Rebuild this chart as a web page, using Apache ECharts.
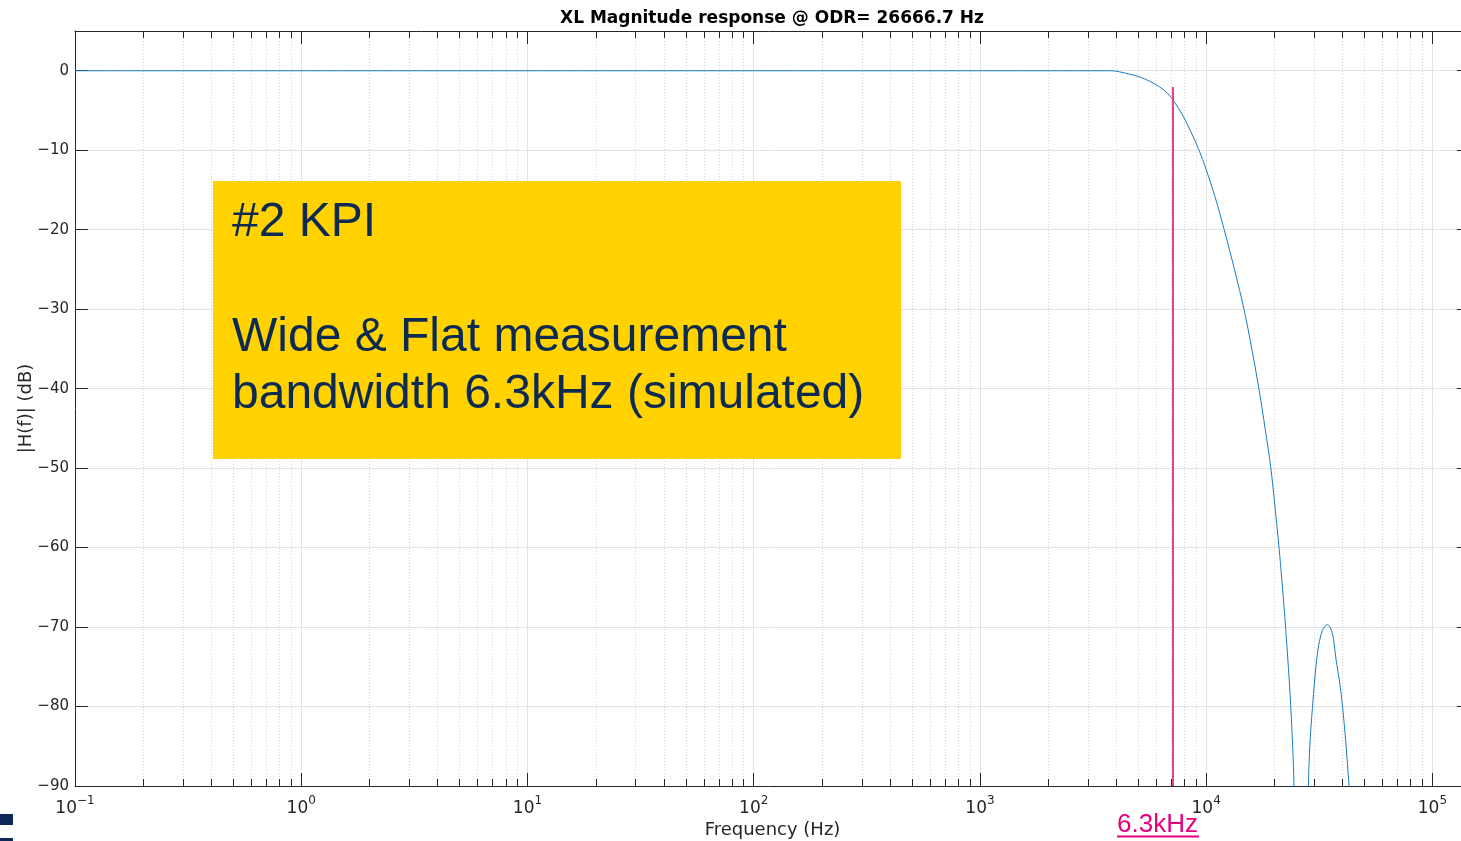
<!DOCTYPE html>
<html><head><meta charset="utf-8">
<script src="https://cdn.jsdelivr.net/npm/echarts@6/dist/echarts.min.js"></script>
<style>html,body{margin:0;padding:0;background:#fff}#c{width:1461px;height:841px}</style>
</head><body><div id="c"></div>
<script>
// ---- data ----
const freqHz = [0.1, 3816, 4128, 4570, 5059, 5601, 6200, 6747, 7223, 7859, 8557, 9286, 10010, 10925, 12012, 13335, 14717, 15931, 17145, 18260, 19310, 20216, 21010, 21600, 22490, 23660, 24470, 26667, 28300, 28710, 29500, 31040, 32650, 34350, 36130, 37380, 39340, 41100, 42820, 53333];
const magDb = [0, 0, -0.13, -0.42, -0.76, -1.3, -2.0, -2.84, -3.9, -5.57, -7.68, -9.95, -12.47, -15.8, -20.0, -25.0, -30.1, -35.1, -40.2, -45.2, -50.0, -55.3, -60.1, -64.1, -70.4, -80.1, -90.1, -130, -90.1, -85.1, -80.1, -73.3, -70.4, -69.7, -70.8, -73.8, -78.0, -83.4, -90.1, -130];
const decadeTicks = [0.1, 1, 10, 100, 1000, 10000, 100000];
const minorMultipliers = [2, 3, 4, 5, 6, 7, 8, 9];
const markerFreq = 7150;      // pink vertical marker
const markerTopDb = -2.05;
const titleText = 'XL Magnitude response @ ODR= 26666.7 Hz';
const xName = 'Frequency (Hz)';
const yName = '|H(f)| (dB)';
const kpiLines = ['#2 KPI', 'Wide & Flat measurement', 'bandwidth 6.3kHz (simulated)'];
const markerLabel = '6.3kHz';

const xMin = 0.1, xMax = 146600, yMin = -90, yMax = 5;
const minorTickValues = [];
decadeTicks.forEach(d => minorMultipliers.forEach(m => { if (d * m < xMax) minorTickValues.push(d * m); }));

const axisColor = '#262626';
const gridColor = '#e3e3e3';
const font = 'DejaVu Sans';

function xLabel(v) {
  const e = Math.log10(v);
  const r = Math.round(e);
  if (Math.abs(e - r) > 1e-6) return '';
  return '{b|10}{s|' + (r < 0 ? '−' : '') + Math.abs(r) + '}';
}
function yLabel(v) {
  if (v > 0) return '';
  return String(v).replace('-', '−');
}

const chart = echarts.init(document.getElementById('c'), null, {renderer: 'canvas'});
chart.setOption({
  animation: false,
  backgroundColor: '#fff',
  title: {
    text: titleText, left: 772, top: 10, textAlign: 'center', padding: 0,
    textStyle: {fontFamily: font, fontWeight: 'bold', fontSize: 17, color: '#000'}
  },
  grid: {left: 75, right: -9, top: 31, bottom: 55, containLabel: false, outerBoundsMode: 'none'},
  xAxis: [{
    type: 'log', logBase: 10, min: xMin, max: xMax, splitNumber: 6,
    position: 'bottom',
    name: xName, nameLocation: 'middle', nameGap: 35, nameMoveOverlap: false,
    nameTextStyle: {fontFamily: font, fontSize: 18, color: axisColor},
    axisLine: {show: true, onZero: false, lineStyle: {color: axisColor, width: 1}},
    axisTick: {show: true, inside: true, length: 13, lineStyle: {color: axisColor}},
    axisLabel: {
      formatter: xLabel, margin: 9, color: axisColor,
      rich: {
        b: {fontFamily: font, fontSize: 17, color: axisColor, verticalAlign: 'bottom', lineHeight: 22},
        s: {fontFamily: font, fontSize: 12, color: axisColor, verticalAlign: 'top', lineHeight: 12}
      }
    },
    splitLine: {show: true, lineStyle: {color: gridColor, width: 1}}
  }, {
    type: 'log', logBase: 10, min: xMin, max: xMax, splitNumber: 6,
    position: 'top',
    axisLine: {show: true, onZero: false, lineStyle: {color: axisColor, width: 1}},
    axisTick: {show: true, inside: true, length: 13, lineStyle: {color: axisColor}},
    axisLabel: {show: false},
    splitLine: {show: false}
  }],
  yAxis: [{
    type: 'value', min: yMin, max: yMax, interval: 10, position: 'left',
    name: yName, nameLocation: 'middle', nameGap: 40, nameRotate: 90, nameMoveOverlap: false,
    nameTextStyle: {fontFamily: font, fontSize: 18, color: axisColor},
    axisLine: {show: true, onZero: false, lineStyle: {color: axisColor, width: 1}},
    axisTick: {show: true, inside: true, length: 13, lineStyle: {color: axisColor}},
    axisLabel: {formatter: yLabel, fontFamily: font, fontSize: 15, color: axisColor, margin: 6},
    splitLine: {show: true, lineStyle: {color: gridColor, width: 1}}
  }, {
    type: 'value', min: yMin, max: yMax, interval: 10, position: 'right',
    axisLine: {show: true, onZero: false, lineStyle: {color: axisColor, width: 1}},
    axisTick: {show: true, inside: true, length: 13, lineStyle: {color: axisColor}},
    axisLabel: {show: false},
    splitLine: {show: false}
  }],
  series: [{
    type: 'custom', xAxisIndex: 0, yAxisIndex: 0, silent: true, z: 1,
    data: minorTickValues.map(v => [v, yMin]),
    encode: {x: 0, y: 1},
    renderItem: function (params, api) {
      const f = api.value(0);
      const b = api.coord([f, yMin]);
      const t = api.coord([f, yMax]);
      const x = Math.round(b[0]) + 0.5;
      return {type: 'group', children: [
        {type: 'line', shape: {x1: x, y1: b[1], x2: x, y2: t[1]}, style: {stroke: '#d4d4d4', lineWidth: 1, lineDash: [1, 2]}},
        {type: 'line', shape: {x1: x, y1: b[1], x2: x, y2: b[1] - 7}, style: {stroke: axisColor, lineWidth: 1}},
        {type: 'line', shape: {x1: x, y1: t[1], x2: x, y2: t[1] + 7}, style: {stroke: axisColor, lineWidth: 1}}
      ]};
    }
  }, {
    type: 'line', xAxisIndex: 0, yAxisIndex: 0, z: 3,
    data: freqHz.map((f, i) => [f, magDb[i]]),
    showSymbol: false, symbol: 'none', smooth: 0.35, clip: true,
    lineStyle: {color: '#1a7cc4', width: 1},
    markLine: {
      symbol: 'none', silent: true, label: {show: false},
      lineStyle: {color: '#E8428C', width: 2, type: 'solid'},
      data: [[{coord: [markerFreq, markerTopDb]}, {coord: [markerFreq, yMin]}]]
    }
  }],
  graphic: [
    {type: 'rect', z: 100, shape: {x: 213, y: 181, width: 688, height: 278}, style: {fill: '#FFD200'}},
    {type: 'text', z: 101, x: 232, y: 223, style: {text: kpiLines[0], font: '48px "Liberation Sans", Arial', fill: '#0d2a52', verticalAlign: 'middle'}},
    {type: 'text', z: 101, x: 232, y: 338, style: {text: kpiLines[1], font: '48px "Liberation Sans", Arial', fill: '#0d2a52', verticalAlign: 'middle'}},
    {type: 'text', z: 101, x: 232, y: 395, style: {text: kpiLines[2], font: '48px "Liberation Sans", Arial', fill: '#0d2a52', verticalAlign: 'middle'}},
    {type: 'text', z: 101, x: 1117, y: 825, style: {text: markerLabel, font: '26px "Liberation Sans", Arial', fill: '#E6007E', verticalAlign: 'middle'}},
    {type: 'rect', z: 101, shape: {x: 1117, y: 835.5, width: 82, height: 2}, style: {fill: '#E6007E'}},
    {type: 'rect', z: 101, shape: {x: 0, y: 814, width: 13, height: 11}, style: {fill: '#0b2a55'}},
    {type: 'rect', z: 101, shape: {x: 0, y: 838, width: 13, height: 3}, style: {fill: '#0b2a55'}}
  ]
});
</script></body></html>
